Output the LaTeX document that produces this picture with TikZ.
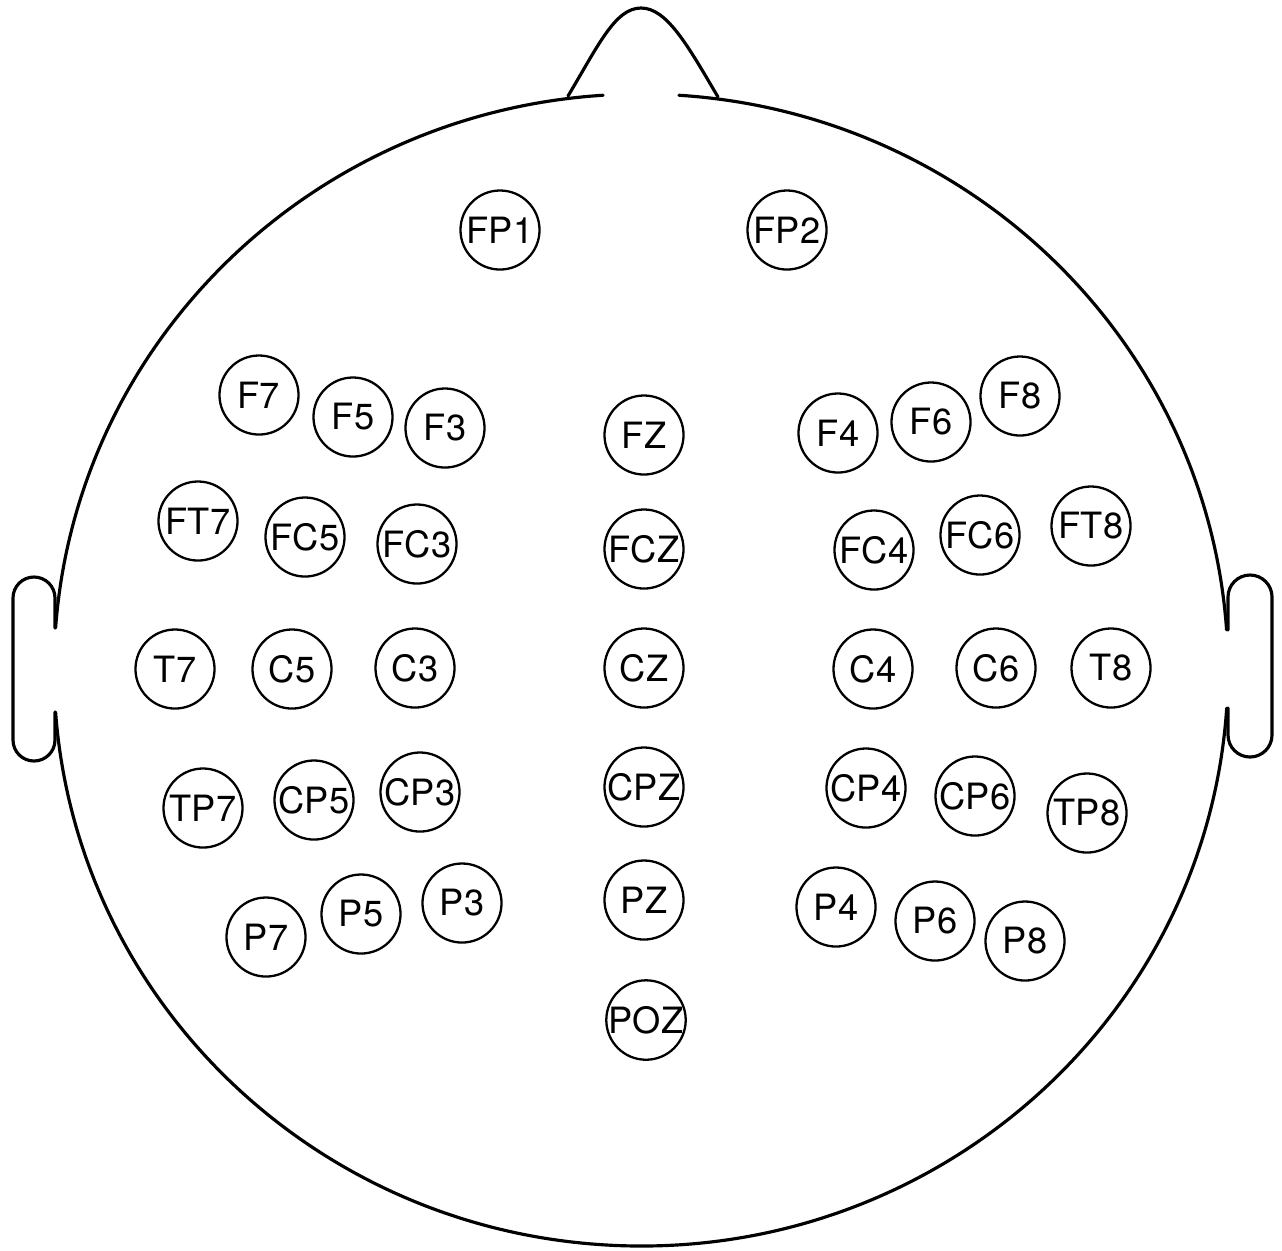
\documentclass[tikz,border=0pt]{standalone}
\usepackage{fontspec}
\setmainfont{TeX Gyre Heros}
\tikzset{
  electrode/.style={circle, draw, line width=0.65pt, minimum size=0.79cm, inner sep=0pt,
    font=\fontsize{10.3}{12}\selectfont},
  outline/.style={line width=0.9pt, line cap=round}
}
\begin{document}
\begin{tikzpicture}[x=0.01cm, y=-0.01cm]
  \useasboundingbox (0,0) rectangle (1282,1250);
  \coordinate (head) at (641,670);
  % head, with gaps for nose and ears
  \draw[outline] (head) ++(3.8:587 and 576)
    arc[start angle=3.8, end angle=175.8, x radius=587, y radius=576];
  \draw[outline] (head) ++(184.2:587 and 576)
    arc[start angle=184.2, end angle=266.3, x radius=587, y radius=576];
  \draw[outline] (head) ++(273.7:587 and 576)
    arc[start angle=273.7, end angle=356, x radius=587, y radius=576];
  % nose
  \draw[outline] (568,96) .. controls (598,46) and (615,8) .. (641,8)
    .. controls (667,8) and (688,46) .. (718,97);
  % ears
  \draw[outline] (55,628) -- (55,598) arc[start angle=0, end angle=-180, radius=21]
    -- (13,740) arc[start angle=180, end angle=0, radius=21] -- (55,712);
  \draw[outline] (1228,630) -- (1228,597) arc[start angle=180, end angle=360, radius=22]
    -- (1272,735) arc[start angle=0, end angle=180, radius=22] -- (1228,708);
  % electrodes
  \node[electrode] (fp1) at (500,230) {FP1};
  \node[electrode] (fp2) at (787,230) {FP2};
  \node[electrode] (f7) at (259,395) {F7};
  \node[electrode] (f5) at (353,417) {F5};
  \node[electrode] (f3) at (445,428) {F3};
  \node[electrode] (fz) at (644,435) {FZ};
  \node[electrode] (f4) at (838,433) {F4};
  \node[electrode] (f6) at (931,422) {F6};
  \node[electrode] (f8) at (1020,396) {F8};
  \node[electrode] (ft7) at (198,521) {FT7};
  \node[electrode] (fc5) at (305,537) {FC5};
  \node[electrode] (fc3) at (417,544) {FC3};
  \node[electrode] (fcz) at (644,549) {FCZ};
  \node[electrode] (fc4) at (874,550) {FC4};
  \node[electrode] (fc6) at (980,535) {FC6};
  \node[electrode] (ft8) at (1091,526) {FT8};
  \node[electrode] (t7) at (175,669) {T7};
  \node[electrode] (c5) at (292,669) {C5};
  \node[electrode] (c3) at (415,668) {C3};
  \node[electrode] (cz) at (644,668) {CZ};
  \node[electrode] (c4) at (873,669) {C4};
  \node[electrode] (c6) at (996,668) {C6};
  \node[electrode] (t8) at (1111,668) {T8};
  \node[electrode] (tp7) at (203,808) {TP7};
  \node[electrode] (cp5) at (314,800) {CP5};
  \node[electrode] (cp3) at (420,792) {CP3};
  \node[electrode] (cpz) at (644,787) {CPZ};
  \node[electrode] (cp4) at (866,788) {CP4};
  \node[electrode] (cp6) at (975,796) {CP6};
  \node[electrode] (tp8) at (1087,813) {TP8};
  \node[electrode] (p7) at (266,937) {P7};
  \node[electrode] (p5) at (361,914) {P5};
  \node[electrode] (p3) at (462,903) {P3};
  \node[electrode] (pz) at (644,900) {PZ};
  \node[electrode] (p4) at (836,907) {P4};
  \node[electrode] (p6) at (935,921) {P6};
  \node[electrode] (p8) at (1025,941) {P8};
  \node[electrode] (poz) at (646,1020) {POZ};
\end{tikzpicture}
\end{document}
